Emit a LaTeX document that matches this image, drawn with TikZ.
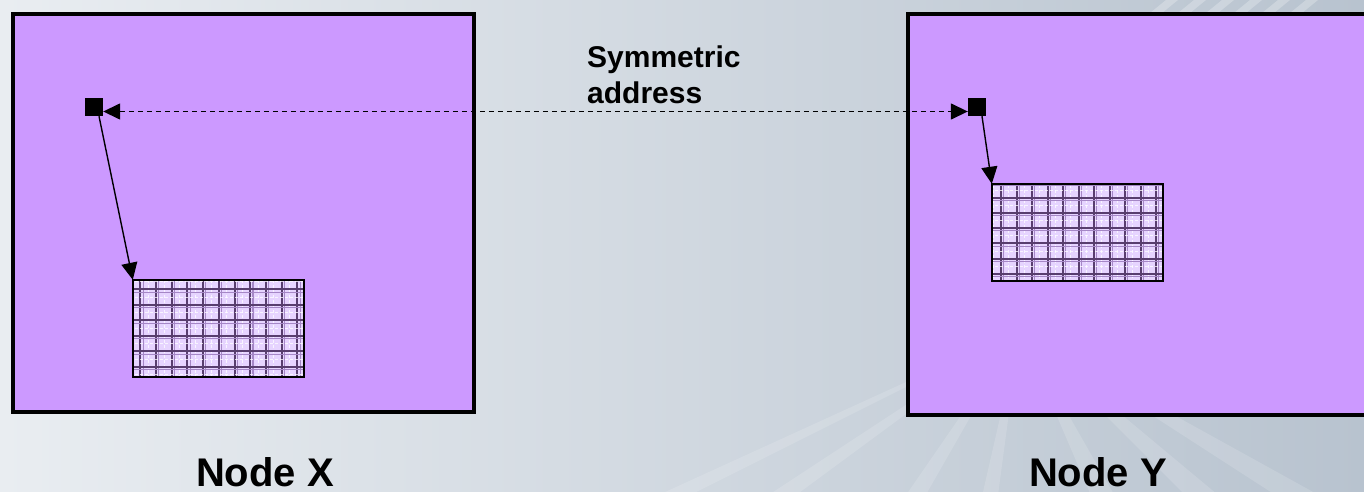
\documentclass[tikz,border=0pt]{standalone}
\usepackage{fontspec}
\setmainfont{Liberation Sans}
\usetikzlibrary{arrows.meta}

\definecolor{bgL}{RGB}{233,237,241}
\definecolor{bgR}{RGB}{184,195,207}
\definecolor{boxfill}{RGB}{204,153,255}
\definecolor{cellfill}{RGB}{230,212,255}
\definecolor{gridline}{RGB}{88,62,110}
\definecolor{gridsoft}{RGB}{165,135,198}

% memory block: #1 node name, #2/#3 first vertical / horizontal rule,
% #4/#5 column / row pitch
\newcommand\cellgrid[5]{%
  \begin{scope}
    \clip (#1.north west) rectangle (#1.south east);
    \foreach \i in {-1,...,11} {
      \pgfmathsetmacro\xx{#2+#4*\i}
      \draw[white,opacity=0.75,line width=0.6pt,dash pattern=on 3pt off 2pt]
        (\xx+0.5*#4,0) -- (\xx+0.5*#4,600);
      \draw[gridsoft,line width=1.1pt] (\xx+2.8,0) -- (\xx+2.8,600);
      \draw[gridline,line width=2pt] (\xx,0) -- (\xx,600);
    }
    \foreach \j in {-1,...,7} {
      \pgfmathsetmacro\yy{#3+#5*\j}
      \draw[white,opacity=0.75,line width=0.6pt,dash pattern=on 3pt off 2pt]
        (0,\yy+0.5*#5) -- (1400,\yy+0.5*#5);
      \draw[gridsoft,line width=1.1pt] (0,\yy+2.8) -- (1400,\yy+2.8);
      \draw[gridline,line width=2pt] (0,\yy) -- (1400,\yy);
    }
  \end{scope}
  \draw[black,line width=1.6pt] (#1.north west) rectangle (#1.south east);
}

\begin{document}
\begin{tikzpicture}[x=1pt,y=-1pt,
    hostbox/.style={draw=black,line width=4pt,fill=boxfill,inner sep=0pt,
      rectangle},
    memblock/.style={fill=cellfill,inner sep=0pt,rectangle,
      minimum width=171pt,minimum height=97pt},
    addrmark/.style={fill=black,inner sep=0pt,minimum size=18pt,rectangle},
    pointer/.style={line width=1.4pt,
      -{Triangle[length=17pt,width=16pt]}},
    symlink/.style={line width=1.5pt,dash pattern=on 5pt off 4pt,
      {Triangle[length=17pt,width=16pt]}-{Triangle[length=17pt,width=16pt]}},
    caption/.style={font=\bfseries\fontsize{40}{46}\selectfont,anchor=base,
      inner sep=0pt,text depth=0pt},
    note/.style={font=\bfseries\fontsize{30}{36}\selectfont,align=left,
      anchor=north west,inner sep=0pt}]

  \clip (0,0) rectangle (1364,492);

  % backdrop
  \shade[left color=bgL,right color=bgR] (0,0) rectangle (1364,492);
  \foreach \a/\b in {560/600, 700/735, 875/900, 972/992, 1110/1140,
                     1230/1272, 1345/1400} {
    \fill[white,opacity=0.14] (1020,330) -- (\a,540) -- (\b,540) -- cycle;
  }
  \foreach \k in {0,...,5} {
    \fill[white,opacity=0.25]
      (1150+28*\k,13) -- (1166+28*\k,0) -- (1178+28*\k,0) -- (1162+28*\k,13) -- cycle;
  }

  % the two hosts
  \node[hostbox,minimum width=461pt,minimum height=398pt] (boxX) at (243.5,213) {};
  \node[hostbox,minimum width=512pt,minimum height=401pt] (boxY) at (1164,214.5) {};

  % memory blocks
  \node[memblock] (gX) at (218.5,328.5) {};
  \cellgrid{gX}{140.3}{289.3}{15.7}{15.5}
  \node[memblock] (gY) at (1077.5,232.5) {};
  \cellgrid{gY}{1001}{197.7}{15.5}{15.2}

  % address marks
  \node[addrmark] (sqX) at (94,107) {};
  \node[addrmark] (sqY) at (977,107) {};

  % connectors
  \draw[symlink] ([yshift=-4.5pt]sqX.east) -- ([yshift=-4.5pt]sqY.west);
  \draw[pointer] ([xshift=5pt]sqX.south) -- (gX.north west);
  \draw[pointer] ([xshift=5pt]sqY.south) -- (gY.north west);

  % labels
  \node[note] (sym) at (587,46) {Symmetric\\address};
  \node[caption] (capX) at (265,486) {Node X};
  \node[caption] (capY) at (1098,486) {Node Y};
\end{tikzpicture}
\end{document}
